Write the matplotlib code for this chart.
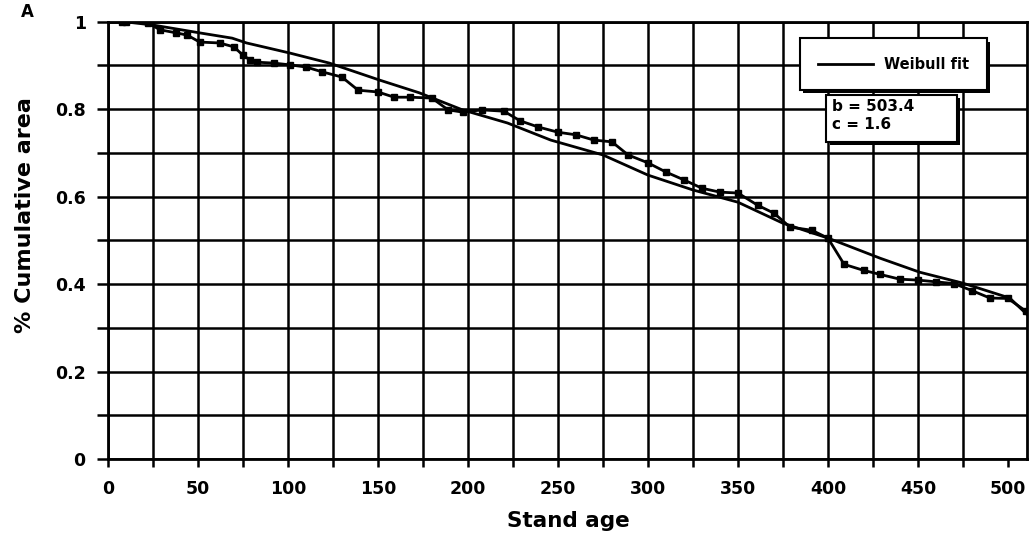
import matplotlib
matplotlib.use("Agg")
import matplotlib.pyplot as plt
import matplotlib.patheffects as pe
from matplotlib.patches import Rectangle
from matplotlib.ticker import FixedLocator, FixedFormatter

plt.rcParams['font.family'] = ['DejaVu Sans']
plt.rcParams['font.weight'] = 'bold'

# Observed cumulative area (stepped series with markers)
obs_age = [8, 10, 22, 29, 38, 44, 51, 62, 70, 75, 79, 83, 92, 101, 110, 119,
           130, 139, 150, 159, 168, 180, 189, 197, 208, 220, 229, 239, 250,
           260, 270, 280, 289, 300, 310, 320, 330, 340, 350, 361, 370, 379,
           391, 400, 409, 420, 429, 440, 450, 460, 470, 480, 490, 500, 510, 516]
obs_area = [1.0, 1.0, 0.997, 0.981, 0.974, 0.969, 0.953, 0.951, 0.942, 0.923,
            0.912, 0.907, 0.905, 0.901, 0.896, 0.885, 0.873, 0.843, 0.839,
            0.827, 0.827, 0.825, 0.798, 0.793, 0.798, 0.795, 0.773, 0.759,
            0.747, 0.741, 0.729, 0.725, 0.695, 0.677, 0.656, 0.638, 0.619,
            0.610, 0.608, 0.580, 0.562, 0.530, 0.523, 0.505, 0.445, 0.431,
            0.422, 0.411, 0.409, 0.405, 0.401, 0.385, 0.368, 0.367, 0.338, 0.31]

# Weibull fit curve
fit_age = [8, 25, 51, 69, 77, 101, 123, 151, 173, 197, 222, 246, 275, 300,
           325, 350, 375, 400, 407, 429, 451, 475, 501, 512]
fit_area = [1.0, 0.992, 0.974, 0.962, 0.951, 0.928, 0.905, 0.866, 0.837,
            0.798, 0.768, 0.729, 0.695, 0.649, 0.615, 0.587, 0.539, 0.505,
            0.494, 0.459, 0.427, 0.402, 0.368, 0.325]

x_ticks = [0, 50, 100, 150, 200, 250, 300, 350, 400, 450, 500]
x_minor = [25, 75, 125, 175, 225, 275, 325, 375, 425, 475]
y_ticks = [0, 0.2, 0.4, 0.6, 0.8, 1.0]
y_tick_labels = ['0', '0.2', '0.4', '0.6', '0.8', '1']
y_minor = [0.1, 0.3, 0.5, 0.7, 0.9]
fit_label = 'Weibull fit'
param_text = 'b = 503.4\nc = 1.6'

fig = plt.figure(figsize=(10.33, 5.38), dpi=100)
ax = fig.add_axes([0.1045, 0.1468, 0.8895, 0.8132])

ax.plot(obs_age, obs_area, color='black', lw=2, marker='s', ms=4.5,
        zorder=3)
ax.plot(fit_age, fit_area, color='black', lw=2, label=fit_label, zorder=3)

ax.set_xlim(0, 510.5)
ax.set_ylim(0, 1)

ax.xaxis.set_major_locator(FixedLocator(x_ticks))
ax.xaxis.set_minor_locator(FixedLocator(x_minor))
ax.yaxis.set_major_locator(FixedLocator(y_ticks))
ax.yaxis.set_major_formatter(FixedFormatter(y_tick_labels))
ax.yaxis.set_minor_locator(FixedLocator(y_minor))

ax.grid(True, which='both', color='black', lw=1.8)
ax.set_axisbelow(True)
# Last vertical gridline (at 500) is not drawn in the original
ax.xaxis.get_gridlines()[-1].set_visible(False)

for s in ax.spines.values():
    s.set_linewidth(2)

ax.tick_params(axis='x', which='both', direction='out', length=6, width=1.8,
               labelsize=12.5, pad=9)
ax.tick_params(axis='y', which='both', direction='out', length=8, width=1.8,
               labelsize=12.5, pad=8)
for lab in ax.get_xticklabels() + ax.get_yticklabels():
    lab.set_fontweight('bold')

ax.set_xlabel('Stand age', fontsize=15.5, fontweight='bold')
ax.set_ylabel('% Cumulative area', fontsize=16, fontweight='bold')
ax.xaxis.set_label_coords(0.501, -0.118)
ax.yaxis.set_label_coords(-0.079, 0.557)

fig.text(0.02, 0.978, 'A', fontsize=12, fontweight='bold', va='center')

shadow = [pe.SimplePatchShadow(offset=(2.5, -2.5), shadow_rgbFace='black',
                               alpha=1), pe.Normal()]

leg = ax.legend(loc='upper left', bbox_to_anchor=(0.745, 0.978),
                frameon=True, fancybox=False, handlelength=3.8,
                handletextpad=0.7, borderpad=1.25,
                prop={'size': 10.5, 'weight': 'bold'})
leg.get_frame().set_edgecolor('black')
leg.get_frame().set_linewidth(1.5)
leg.get_frame().set_alpha(1)
leg.get_frame().set_path_effects(shadow)
leg.set_zorder(5)

box = Rectangle((0.782, 0.725), 0.142, 0.107, transform=ax.transAxes,
                facecolor='white', edgecolor='black', lw=1.5, zorder=5)
box.set_path_effects(shadow)
ax.add_patch(box)
ax.text(0.788, 0.823, param_text, transform=ax.transAxes, fontsize=11,
        fontweight='bold', va='top', ha='left', linespacing=1.25, zorder=6)

fig.savefig('out.png', dpi=100)
